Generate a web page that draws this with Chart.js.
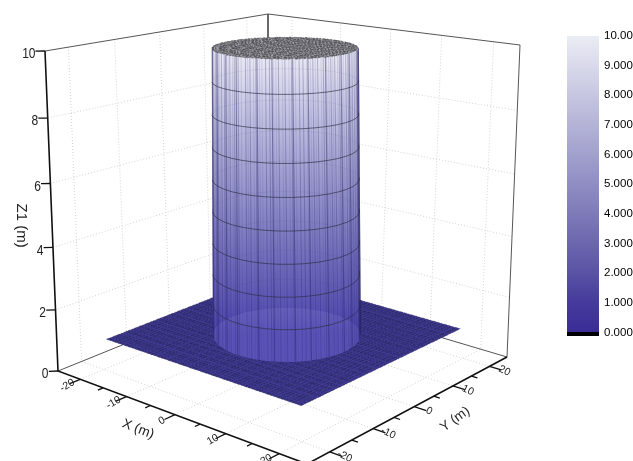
<!DOCTYPE html>
<html>
<head>
<meta charset="utf-8">
<script src="https://cdn.jsdelivr.net/npm/chart.js@4"></script>
<style>
  body { margin: 0; background: #fff; }
  canvas { position: absolute; top: 0; }
</style>
</head>
<body>
<canvas id="surface" width="633" height="461" style="left:0"></canvas>
<canvas id="colorbar" width="73" height="461" style="left:560px"></canvas>
<script>
// Axis ticks
const xyMajor = [-20, -10, 0, 10, 20];
const xyMinor = [-15, -5, 5, 15];
const zTicks = [0, 2, 4, 6, 8, 10];
const zGrid = [2, 4, 6, 8, 10];

// Surface: flat sheet at z=1, cylinder up to z=10
const sheetEdge = [-19.6, 19.6];
const sheetZ = 1;
const topZ = 10;
const cylinderCentre = [0.2, 0.2];
const radiusBase = 11.5;
const radiusTop = 10.9;
const contourLevels = [2, 3, 4, 5, 6, 7, 8, 9];

// Mesh lines of the surface
const meshX = [-19.6, -18.9, -18.3, -17.7, -16.9, -16.2, -15.6, -14.8, -14.1, -13.5, -12.7, -12, -11.4, -10.6, -9.9, -9.3, -8.5, -7.8, -7.2, -6.4, -5.7, -5.1, -4.3, -3.6, -3, -2.2, -1.5, -0.9, -0.1, 0.6, 1.2, 2, 2.7, 3.3, 4.1, 4.8, 5.4, 6.2, 6.9, 7.5, 8.3, 9, 9.6, 10.4, 11.1, 11.7, 12.5, 13.2, 13.8, 14.6, 15.3, 15.9, 16.7, 17.4, 18, 18.8, 19.6];
const meshY = [-19.6, -19.1, -18.4, -17.5, -17, -16.4, -15.3, -14.9, -14, -13.6, -12.5, -12.1, -11.2, -10.7, -9.7, -9.2, -8.3, -7.9, -7, -6.5, -5.4, -5, -4.1, -3.7, -2.8, -2.3, -1.3, -0.8, 0.1, 0.7, 1.5, 2.1, 2.9, 3.4, 4.4, 4.9, 5.7, 6.3, 7.2, 7.6, 8.6, 9.1, 9.9, 10.5, 11.3, 11.8, 12.8, 13.3, 14.1, 14.7, 15.6, 16, 17, 17.5, 18.3, 18.9, 19.6];

// Angles round the cylinder, the first 19 run along the front
const ringAngles = [225, 235, 245, 255, 265, 275, 285, 295, 305, 315, 325, 335, 345, 355, 365, 375, 385, 395, 405, 415, 425, 435, 445, 455, 465, 475, 485, 495, 505, 515, 525, 535, 545, 555, 565, 575];
const frontCount = 19;

// Vertical streaks on the wall
const strongStreaks = [230, 244, 258, 270, 289, 301, 317, 329, 344, 360, 371, 389, 398];
const darkStreaks = [228, 233, 241, 246, 252, 256, 263, 268, 272, 279, 283, 288, 296, 299, 306, 311, 316, 322, 325, 333, 337, 342, 349, 353, 358, 366, 369, 376, 380, 386, 391, 397, 401];
const faintStreaks = [231, 237, 243, 249, 259, 261, 266, 275, 281, 286, 291, 293, 302, 304, 309, 314, 319, 328, 331, 335, 340, 345, 347, 351, 356, 361, 363, 372, 374, 383, 388, 393, 399, 403];

// Colour scale
const colorLevels = [0, 1, 2, 3, 4, 5, 6, 7, 8, 9, 10];
const colorStops = ["#3a2c96", "#453a9c", "#5a52a5", "#6c66ae", "#7e7ab8", "#908dc3", "#a2a0cd", "#b4b3d7", "#c6c6e1", "#d9d9eb", "#ececf5"];
const barTicks = [0, 1, 2, 3, 4, 5, 6, 7, 8, 9, 10];

// View: picture corners of the floor and of the top of the box
const axisRange = [-25, 25];
const floorQuad = [[58, 371], [307, 464], [507, 357], [268, 286]];
const topQuad = [[45, 51], [300, 86], [520, 45], [268, 14]];
const zPerspective = 0.06;

const quadMap = q => {
    const [p0, p1, p2, p3] = q;
    const dx1 = p1[0] - p2[0], dx2 = p3[0] - p2[0], sx = p0[0] - p1[0] + p2[0] - p3[0];
    const dy1 = p1[1] - p2[1], dy2 = p3[1] - p2[1], sy = p0[1] - p1[1] + p2[1] - p3[1];
    const den = dx1 * dy2 - dx2 * dy1;
    const g = (sx * dy2 - dx2 * sy) / den;
    const h = (dx1 * sy - sx * dy1) / den;
    const a = p1[0] - p0[0] + g * p1[0], b = p3[0] - p0[0] + h * p3[0];
    const d = p1[1] - p0[1] + g * p1[1], e = p3[1] - p0[1] + h * p3[1];
    return (x, y) => {
        const w = g * x + h * y + 1;
        return [(a * x + b * y + p0[0]) / w, (d * x + e * y + p0[1]) / w];
    };
};
const floorMap = quadMap(floorQuad);
const topMap = quadMap(topQuad);

const zShare = z => {
    const s = z / topZ;
    return s / (1 + zPerspective * (1 - s));
};

const project = (X, Y, Z) => {
    const span = axisRange[1] - axisRange[0];
    const x = (X - axisRange[0]) / span;
    const y = (Y - axisRange[0]) / span;
    const t = zShare(Z);
    const a = floorMap(x, y);
    const b = topMap(x, y);
    return { x: a[0] + (b[0] - a[0]) * t, y: a[1] + (b[1] - a[1]) * t };
};

const gap = { x: NaN, y: NaN };
const lo = axisRange[0], hi = axisRange[1];
const [cx, cy] = cylinderCentre;

const ringPoint = (deg, z) => {
    const r = radiusBase + (radiusTop - radiusBase) * (z - sheetZ) / (topZ - sheetZ);
    const rad = deg * Math.PI / 180;
    return project(cx + r * Math.cos(rad), cy + r * Math.sin(rad), z);
};

// Everything is pushed in painting order
const datasets = [];
const addLines = (segments, color, width, extra) => {
    const data = [];
    segments.forEach(s => { data.push(...s, gap); });
    datasets.push(Object.assign({
        data: data, showLine: true, pointRadius: 0, borderColor: color, borderWidth: width, fill: false, order: -datasets.length
    }, extra));
};
const addShape = (points, color) => {
    datasets.push({
        data: points, showLine: true, pointRadius: 0, borderWidth: 0, backgroundColor: color, fill: "shape", order: -datasets.length
    });
};

const rampGradient = (chart, yOfLevel, first, last) => {
    const area = chart.chartArea;
    if (!area) return colorStops[5];
    const grad = chart.ctx.createLinearGradient(0, yOfLevel(first), 0, yOfLevel(last));
    colorLevels.forEach((lv, i) => {
        if (lv >= first && lv <= last) grad.addColorStop((lv - first) / (last - first), colorStops[i]);
    });
    return grad;
};

const wallY = chart => lv => chart.scales.y.getPixelForValue(project(0, 0, lv).y);

// Dotted grid on floor and back walls
let grid = [];
xyMajor.forEach(v => {
    grid.push([project(v, lo, 0), project(v, hi, 0), project(v, hi, topZ)]);
    grid.push([project(lo, v, topZ), project(lo, v, 0), project(hi, v, 0)]);
});
zGrid.forEach(z => {
    if (z < topZ) grid.push([project(lo, lo, z), project(lo, hi, z), project(hi, hi, z)]);
});
addLines(grid, "#d2d2d2", 1, { borderDash: [1, 2] });

// Thin frame
addLines([
    [project(lo, lo, topZ), project(lo, hi, topZ), project(hi, hi, topZ), project(hi, hi, 0), project(lo, hi, 0), project(lo, lo, 0)],
    [project(lo, hi, topZ), project(lo, hi, 0)]
], "#555", 1);

// Thick axes and their ticks
addLines([
    [project(lo, lo, topZ), project(lo, lo, 0), project(hi, lo, 0), project(hi, hi, 0)]
], "#111", 1.6);
let ticks = [];
xyMajor.forEach(v => {
    ticks.push([project(v, lo, 0), project(v, lo - 2.2, 0)]);
    ticks.push([project(hi, v, 0), project(hi + 2.2, v, 0)]);
});
xyMinor.forEach(v => {
    ticks.push([project(v, lo, 0), project(v, lo - 1.1, 0)]);
    ticks.push([project(hi, v, 0), project(hi + 1.1, v, 0)]);
});
zTicks.forEach(z => {
    ticks.push([project(lo, lo, z), project(lo - 1, lo - 1, z)]);
});
addLines(ticks, "#111", 1.3);

// Flat sheet
const [s0, s1] = sheetEdge;
addShape([project(s0, s0, sheetZ), project(s1, s0, sheetZ), project(s1, s1, sheetZ), project(s0, s1, sheetZ)], "#3f3a90");
let sheetMesh = [];
meshX.forEach(c => {
    sheetMesh.push([project(c, s0, sheetZ), project(c, s1, sheetZ)]);
});
meshY.forEach(c => {
    sheetMesh.push([project(s0, c, sheetZ), project(s1, c, sheetZ)]);
});
addLines(sheetMesh, "rgba(20,20,50,0.48)", 0.7, { borderDash: [2.5, 1.5, 1, 2, 3.5, 1] });

// Cylinder wall
const frontAngles = ringAngles.slice(0, frontCount);
const wallPoly = frontAngles.map(a => ringPoint(a, sheetZ))
    .concat(frontAngles.slice().reverse().map(a => ringPoint(a, topZ)));
addShape(wallPoly, ctx => rampGradient(ctx.chart, wallY(ctx.chart), sheetZ, topZ));

// Blue cast on the lower wall
addShape(wallPoly, ctx => {
    const chart = ctx.chart;
    if (!chart.chartArea) return "rgba(95,95,235,0.16)";
    const y = wallY(chart);
    const grad = chart.ctx.createLinearGradient(0, y(sheetZ), 0, y(topZ));
    grad.addColorStop(0, "rgba(95,95,235,0.24)");
    grad.addColorStop(0.6, "rgba(120,120,240,0.06)");
    grad.addColorStop(1, "rgba(255,255,255,0.15)");
    return grad;
});

// Lighter disc of the sheet seen through the wall
addShape(ringAngles.map(a => ringPoint(a, sheetZ)), "rgba(190,190,240,0.13)");

addLines(faintStreaks.map(a => [ringPoint(a, sheetZ), ringPoint(a, topZ)]), "rgba(55,50,120,0.14)", 1);
addLines(darkStreaks.map(a => [ringPoint(a, sheetZ), ringPoint(a, topZ)]), "rgba(40,35,105,0.32)", 0.9);
addLines(strongStreaks.map(a => [ringPoint(a, sheetZ), ringPoint(a, topZ)]), "rgba(35,30,95,0.45)", 1.1);

// Contour rings, the back halves only just show through
const backAngles = ringAngles.slice(frontCount - 1).concat(ringAngles[0]);
addLines(contourLevels.map(z => backAngles.map(a => ringPoint(a, z))), "rgba(70,70,110,0.08)", 1);
addLines(contourLevels.map(z => frontAngles.map(a => ringPoint(a, z))), "rgba(45,45,65,0.65)", 1);

// Top of the cylinder
addShape(ringAngles.map(a => ringPoint(a, topZ)), "#a2a2a8");
let topMesh = [];
meshX.forEach(c => {
    if (Math.abs(c) < radiusTop) {
        const half = Math.sqrt(radiusTop * radiusTop - c * c);
        topMesh.push([project(cx + c, cy - half, topZ), project(cx + c, cy + half, topZ)]);
    }
});
meshY.forEach(c => {
    if (Math.abs(c) < radiusTop) {
        const half = Math.sqrt(radiusTop * radiusTop - c * c);
        topMesh.push([project(cx - half, cy + c, topZ), project(cx + half, cy + c, topZ)]);
    }
});
addLines(topMesh, "rgba(30,30,35,0.55)", 0.7, { borderDash: [2, 1.5, 1, 2.5, 3, 1] });

// Tick labels and axis titles
const axisText = {
    id: "axisText",
    afterDatasetsDraw(chart) {
        const ctx = chart.ctx;
        const put = (text, pos, dx, dy, deg, font, align, squeeze) => {
            ctx.save();
            ctx.translate(chart.scales.x.getPixelForValue(pos.x) + dx, chart.scales.y.getPixelForValue(pos.y) + dy);
            ctx.rotate(deg * Math.PI / 180);
            ctx.scale(squeeze, 1);
            ctx.font = font;
            ctx.fillStyle = "#222";
            ctx.textAlign = align;
            ctx.textBaseline = "middle";
            ctx.fillText(text, 0, 0);
            ctx.restore();
        };
        const small = "10.5px 'Liberation Sans'";
        const large = "15px 'Liberation Sans'";
        xyMajor.forEach(v => {
            put(String(v), project(v, lo, 0), -13, 6, -30, small, "center", 1);
            put(String(v), project(hi, v, 0), 15, 4.5, 25, small, "center", 1);
        });
        zTicks.forEach(z => {
            put(String(z), project(lo, lo, z), -9.5, 3, 0, large, "right", 0.8);
        });
        put("X (m)", project(-3, lo, 0), -22, 20, 21, "13.5px 'Liberation Sans'", "center", 1);
        put("Y (m)", project(hi, 3, 0), 29, 19, -36, "13.5px 'Liberation Sans'", "center", 1);
        put("Z1 (m)", project(lo, lo, 5), -31, 10, 90, "15px 'Liberation Sans'", "center", 1);
    }
};

const surfaceChart = new Chart(document.getElementById("surface"), {
    type: "scatter",
    data: { datasets: datasets },
    plugins: [axisText],
    options: {
        responsive: false,
        animation: false,
        layout: { padding: 0 },
        scales: {
            x: { display: false, min: 0, max: 633 },
            y: { display: false, min: 0, max: 461, reverse: true }
        },
        plugins: {
            legend: { display: false },
            tooltip: { enabled: false },
            filler: { drawTime: "beforeDatasetDraw", propagate: false }
        }
    }
});

const colorbarChart = new Chart(document.getElementById("colorbar"), {
    type: "bar",
    data: {
        labels: ["Z1"],
        datasets: [
            { data: [[-0.12, 0]], backgroundColor: "#000" },
            {
                data: [[0, 10]],
                backgroundColor: ctx => {
                    const chart = ctx.chart;
                    return rampGradient(chart, lv => chart.scales.y.getPixelForValue(lv), 0, 10);
                }
            }
        ]
    },
    options: {
        responsive: false,
        animation: false,
        layout: { padding: { left: 7, top: 36, bottom: 125 } },
        datasets: { bar: { grouped: false, barPercentage: 1, categoryPercentage: 1 } },
        scales: {
            x: { display: false },
            y: {
                position: "right",
                min: -0.12,
                max: 10,
                afterFit: scale => { scale.width = 34; },
                afterBuildTicks: scale => { scale.ticks = barTicks.map(v => ({ value: v })); },
                grid: { display: false, drawTicks: false },
                border: { display: false },
                ticks: {
                    padding: 5,
                    color: "#000",
                    font: { family: "'Liberation Sans'", size: 11.5 },
                    callback: v => (v === 10 ? "10.00" : v.toFixed(3))
                }
            }
        },
        plugins: { legend: { display: false }, tooltip: { enabled: false } }
    }
});
</script>
</body>
</html>
